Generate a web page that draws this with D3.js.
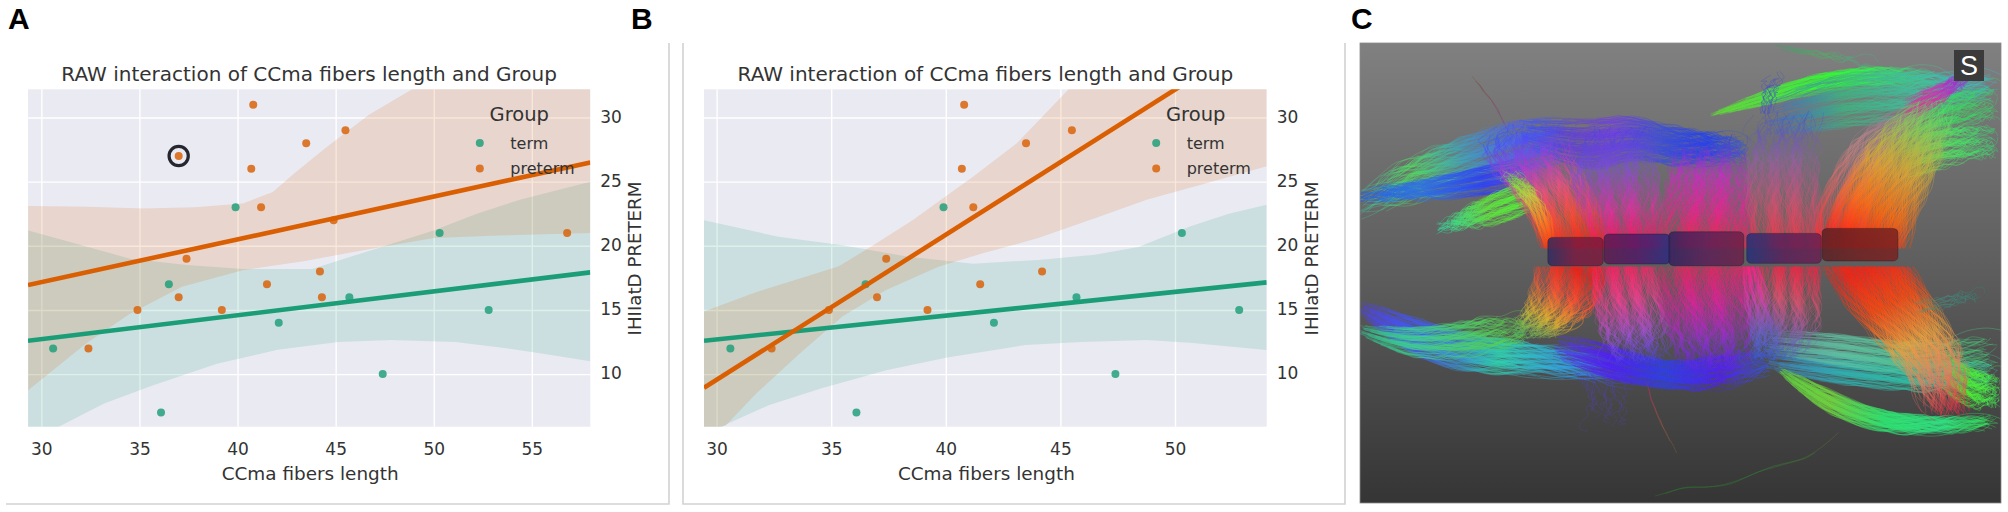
<!DOCTYPE html>
<html>
<head>
<meta charset="utf-8">
<script src="https://cdn.jsdelivr.net/npm/d3@7"></script>
<style>
  html, body { margin: 0; background: #fff; }
  svg { display: block; }
  text { font-family: "DejaVu Sans", sans-serif; fill: #333; }
  .letter { font-family: "Liberation Sans", sans-serif; font-weight: 700; font-size: 30px; fill: #000; }
</style>
</head>
<body>
<svg id="fig" width="2008" height="512"></svg>
<script>
const titleText = 'RAW interaction of CCma fibers length and Group';
const xLabel = 'CCma fibers length';
const yLabel = 'IHIIatD PRETERM';
const groups = ['term', 'preterm'];
const yTicks = [10, 15, 20, 25, 30];
const xTicksA = [30, 35, 40, 45, 50, 55];
const xTicksB = [30, 35, 40, 45, 50];

const termX = [30.6, 36.1, 36.5, 39.9, 42.1, 45.7, 47.4, 50.3, 52.8];
const termY = [12, 7, 17, 23, 14, 16, 10, 21, 15];

const pretermXA = [32.4, 34.9, 37.0, 37.0, 37.4, 39.2, 40.7, 40.8, 41.2, 41.5, 43.5, 44.2, 44.3, 44.9, 45.5, 56.8];
const pretermYA = [12, 15, 16, 27, 19, 15, 26, 31, 23, 17, 28, 18, 16, 22, 29, 21];
const pretermXB = [32.4, 34.9, 37.0, 37.4, 39.2, 40.7, 40.8, 41.2, 41.5, 43.5, 44.2, 45.5];
const pretermYB = [12, 15, 16, 19, 15, 26, 31, 23, 17, 28, 18, 29];

// regression lines, [x, y] at both ends of the axis
const termLineA = [[29.32, 12.6], [57.98, 17.93]];
const pretermLineA = [[29.32, 16.94], [57.98, 26.5]];
const termLineB = [[29.45, 12.6], [54.0, 17.15]];
const pretermLineB = [[29.45, 8.93], [54.0, 36.7]];

// confidence bands
const termUpperA = [[29.33, 21.2], [34.52, 19.0], [37.4, 18.5], [40.27, 18.2], [43.8, 18.2], [46.9, 19.7], [50, 21.2], [52.2, 22.5], [54.4, 23.6], [57.98, 25]];
const termLowerA = [[29.33, 4.85], [30.88, 5.9], [33.2, 7.7], [35.63, 9.1], [38.95, 10.8], [42.04, 11.9], [45.13, 12.5], [47.8, 12.65], [51.1, 12.5], [53.3, 12.1], [55.5, 11.6], [57.98, 11]];
const pretermUpperA = [[29.33, 23.1], [32.3, 23.05], [35.2, 22.9], [37.84, 23.0], [40.27, 23.3], [41.8, 24.2], [42.9, 25.65], [44.47, 27.6], [46.68, 30.2], [48.9, 32.2], [57.98, 38]];
const pretermLowerA = [[29.33, 8.75], [32.3, 12.4], [34.52, 14.7], [37.17, 16.8], [40.27, 18.1], [43.36, 18.8], [46.9, 19.8], [50, 20.6], [53.3, 20.8], [57.98, 21]];

const termUpperB = [[29.43, 22], [32.7, 20.7], [35.5, 20.05], [38.36, 19.15], [41.2, 18.6], [44.03, 18.9], [46.5, 19.3], [48.4, 19.9], [50.65, 21.5], [52.35, 22.5], [54, 23.2]];
const termLowerB = [[29.43, 5.1], [30.5, 6.15], [32.3, 7.6], [34.58, 8.9], [37.4, 10.3], [40.06, 11.3], [43.46, 12.26], [45.9, 12.5], [48.76, 12.65], [50.65, 12.45], [54, 11.87]];
const pretermUpperB = [[29.43, 14.86], [31.74, 16.4], [33.63, 17.46], [35.33, 18.4], [36.85, 20.06], [38.55, 22], [41.2, 25.4], [43.1, 28], [45.36, 32.2], [46.5, 34], [54, 40]];
const pretermLowerB = [[29.43, 5.6], [30.4, 6], [31.74, 8.5], [33.63, 11.6], [35.5, 14.5], [37.4, 16.55], [39.68, 18.37], [41.57, 19.4], [44.03, 20.6], [46.5, 22.15], [48.76, 23.6], [51.6, 25], [54, 26.2]];

const termColor = '#1b9e77';
const pretermColor = '#d95f02';

// panel C: fibre bundles as [x, y, half width] in photo units
const fibreBundles = [
  // horizontal sheets go first, the midline curtain sits on top of them
  { n: 190, axis: 'y', pts: [[560, 420, 55], [420, 440, 70], [300, 490, 70], [180, 520, 60], [50, 610, 40]], colors: ['#4050f0', '#5060f0', '#40a0c0', '#50e060', '#40c0a0'] },
  { n: 130, axis: 'y', pts: [[480, 510, 40], [300, 550, 35], [180, 570, 25], [45, 590, 14]], colors: ['#7040e0', '#3040f0', '#3070e0', '#2060f0'] },
  { n: 120, axis: 'y', pts: [[455, 590, 40], [350, 625, 45], [235, 685, 10]], colors: ['#50ff30', '#60e040', '#30e0a0'] },
  { n: 220, axis: 'y', pts: [[420, 400, 40], [600, 450, 70], [680, 400, 50], [770, 440, 50], [880, 440, 40], [970, 450, 25]], colors: ['#3050ff', '#6040d0', '#7040e0', '#4050d0', '#2040f0', '#4060c0'] },

  { n: 100, axis: 'y', pts: [[870, 345, 4], [1000, 290, 20], [1150, 235, 25], [1300, 225, 28], [1430, 240, 22]], colors: ['#60e030', '#50e040', '#30ff30', '#30f060', '#40c0a0'] },
  { n: 170, axis: 'y', pts: [[1000, 360, 50], [1200, 290, 70], [1350, 280, 60], [1552, 250, 28]], colors: ['#4060d0', '#40b080', '#40c0a0', '#30c0e0'] },
  { n: 110, axis: 'y', pts: [[1300, 410, 60], [1400, 335, 50], [1552, 300, 50]], colors: ['#80b060', '#40d060', '#30e060'] },
  { n: 110, axis: 'y', pts: [[1320, 490, 50], [1420, 430, 50], [1552, 420, 50]], colors: ['#a0c040', '#50e060', '#30e070'] },
  { n: 70, axis: 'y', pts: [[1320, 330, 28], [1420, 275, 28], [1475, 225, 16]], colors: ['#e03090', '#d030b0', '#8030e0'] },

  { n: 200, axis: 'y', pts: [[45, 925, 22], [150, 1000, 45], [280, 1060, 50], [450, 1070, 40], [720, 1125, 35]], colors: ['#5040e0', '#4060f0', '#30d0b0', '#30a0f0', '#5020f0'] },
  { n: 110, axis: 'y', pts: [[45, 990, 14], [180, 1040, 40], [350, 1000, 55], [450, 990, 35]], colors: ['#30c090', '#40d090', '#50d060', '#60d040'] },
  { n: 190, axis: 'y', pts: [[500, 1040, 35], [640, 1090, 45], [780, 1135, 28], [900, 1110, 50], [1030, 1080, 30]], colors: ['#5040e0', '#5020f0', '#3040e0', '#5020f0', '#3060e0'] },

  { n: 150, axis: 'y', pts: [[1000, 1080, 30], [1200, 1110, 40], [1400, 1130, 40], [1552, 1120, 40]], colors: ['#4080c0', '#30b0b0', '#30c0a0', '#40c0a0'] },
  { n: 160, axis: 'y', pts: [[1030, 1110, 10], [1120, 1190, 30], [1250, 1265, 28], [1400, 1280, 22], [1552, 1265, 14]], colors: ['#60d040', '#70d040', '#30e070', '#30e080', '#30f050'] },
  { n: 130, axis: 'y', pts: [[1000, 1030, 30], [1200, 1050, 40], [1350, 1080, 40], [1552, 1050, 55]], colors: ['#60a0a0', '#60c0a0', '#50c090', '#40e070'] },
  { n: 120, axis: 'y', pts: [[1400, 1100, 50], [1480, 1170, 50], [1552, 1170, 50]], colors: ['#60d050', '#50f030', '#40f050'] },

  // top half of the curtain
  { n: 230, axis: 'x', pts: [[555, 745, 65], [530, 640, 70], [480, 540, 80], [420, 450, 90], [460, 375, 80]], colors: ['#ff2010', '#ff4a30', '#f05080', '#a040d0', '#3050ff'] },
  { n: 70, axis: 'x', pts: [[495, 745, 10], [475, 640, 18], [430, 560, 20], [400, 520, 20]], colors: ['#ff3010', '#ff8020', '#c0d040', '#50f030'] },
  { n: 210, axis: 'x', pts: [[680, 745, 62], [660, 620, 80], [625, 500, 90], [660, 385, 80]], colors: ['#ff1050', '#e030a0', '#8050d0', '#4040e0'] },
  { n: 230, axis: 'x', pts: [[865, 745, 95], [865, 620, 85], [860, 510, 75], [870, 410, 70]], colors: ['#ff2040', '#f02090', '#c030c0', '#3040e0'] },
  { n: 190, axis: 'x', pts: [[1060, 745, 70], [1040, 600, 70], [1030, 470, 70], [1050, 340, 70]], colors: ['#ff3040', '#d05070', '#9060a0', '#4050d0'] },
  { n: 140, axis: 'x', pts: [[1175, 745, 45], [1180, 620, 50], [1230, 480, 55], [1280, 380, 50], [1400, 300, 35]], colors: ['#ff3030', '#e06060', '#c08080', '#a08090', '#e03080'] },
  { n: 330, axis: 'x', pts: [[1230, 745, 85], [1260, 620, 85], [1300, 520, 80], [1340, 400, 70], [1400, 310, 50]], colors: ['#ff2010', '#ff6a10', '#e0a030', '#a0c050', '#50e070'] },

  // bottom half of the curtain
  { n: 210, axis: 'x', pts: [[545, 800, 68], [535, 880, 70], [495, 960, 65], [440, 1020, 50]], colors: ['#ff1a10', '#ff5030', '#e0b030', '#50c060'] },
  { n: 190, axis: 'x', pts: [[670, 800, 62], [675, 900, 65], [685, 1000, 70], [700, 1100, 60]], colors: ['#ff2060', '#f04090', '#a050d0', '#4040f0'] },
  { n: 240, axis: 'x', pts: [[865, 800, 95], [855, 900, 85], [870, 1020, 85], [880, 1130, 60]], colors: ['#f02060', '#e020a0', '#9030d0', '#5020f0'] },
  { n: 160, axis: 'x', pts: [[1060, 800, 60], [1050, 900, 60], [1045, 1000, 70], [1005, 1090, 50]], colors: ['#ff2040', '#e05070', '#8060b0', '#3060d0'] },
  { n: 60, axis: 'x', pts: [[965, 800, 15], [975, 880, 25], [995, 1000, 35], [1015, 1100, 25]], colors: ['#ff2080', '#d040b0', '#6060d0', '#3060e0'] },
  { n: 340, axis: 'x', pts: [[1240, 800, 85], [1285, 900, 90], [1345, 1000, 80], [1400, 1110, 60], [1430, 1260, 35]], colors: ['#ff2010', '#ff4a10', '#e8a040', '#e08060', '#ff2040'] },

  // loose strands
  { n: 2, axis: 'y', pts: [[740, 1490, 1], [820, 1455, 1], [900, 1470, 1], [1000, 1400, 2], [1100, 1385, 2], [1170, 1300, 2]], colors: ['#2d7a2d', '#2d7a2d', '#2d7a2d', '#358035', '#407a30', '#607030'] },
  { n: 3, axis: 'y', pts: [[720, 1150, 1], [740, 1240, 2], [790, 1360, 1]], colors: ['#a03060', '#905040', '#806040'] },
  { n: 3, axis: 'y', pts: [[310, 230, 2], [370, 320, 3], [390, 390, 3]], colors: ['#705040', '#805060', '#804090'] },
  { n: 8, axis: 'y', pts: [[1020, 140, 6], [1130, 165, 10], [1260, 190, 12]], colors: ['#3f9a6a', '#50b060', '#40b090'] },
  { n: 12, axis: 'x', pts: [[1000, 340, 12], [1010, 280, 18], [1020, 220, 16]], colors: ['#4050c8', '#4050c8', '#4858b0'] },
  { n: 14, axis: 'x', pts: [[600, 1120, 40], [640, 1200, 50], [620, 1290, 40]], colors: ['#4a40c8', '#5040a0', '#504080'] },
  { n: 10, axis: 'y', pts: [[1350, 930, 20], [1440, 900, 20], [1510, 880, 10]], colors: ['#509070', '#409080', '#308070'] }
];

// the five dark segments along the midline: [x0, y0, x1, y1], left and right tint
const ccBlocks = [
  { box: [488, 712, 618, 797], tints: ['#2e2a60', '#7a1a40', '#7a1a3c'] },
  { box: [620, 702, 775, 792], tints: ['#5a1a50', '#501a66', '#2a2c80'] },
  { box: [772, 695, 948, 797], tints: ['#33205e', '#5a2058', '#6c2048'] },
  { box: [955, 700, 1130, 790], tints: ['#22307a', '#5a2058', '#6a2050'] },
  { box: [1132, 685, 1310, 783], tints: ['#5a2024', '#702020', '#7a2220'] }
];

const svg = d3.select('#fig');
const defs = svg.append('defs');

function drawFrame(left, right, withLeft) {
  const g = svg.append('g').attr('fill', 'none').attr('stroke', '#d2d2d2').attr('stroke-width', 1.6);
  const path = withLeft
    ? `M${left},43V504H${right}V43`
    : `M${left},504H${right}V43`;
  g.append('path').attr('d', path);
}

function drawScatter(cfg) {
  const x = d3.scaleLinear().domain(cfg.xDomain).range([cfg.left, cfg.right]);
  const y = d3.scaleLinear().domain([5.9, 32.2]).range([426.7, 89.3]);
  const g = svg.append('g');

  g.append('rect')
    .attr('x', cfg.left).attr('y', y(32.2))
    .attr('width', cfg.right - cfg.left).attr('height', y(5.9) - y(32.2))
    .attr('fill', '#eaeaf2');

  defs.append('clipPath').attr('id', cfg.id)
    .append('rect')
    .attr('x', cfg.left).attr('y', y(32.2))
    .attr('width', cfg.right - cfg.left).attr('height', y(5.9) - y(32.2));

  // grid lines and tick labels come from the axes
  const xAxis = g.append('g')
    .attr('transform', `translate(0,${y(5.9)})`)
    .call(d3.axisBottom(x).tickValues(cfg.xTicks).tickSize(y(5.9) - y(32.2)).tickPadding(0));
  xAxis.select('.domain').remove();
  xAxis.selectAll('line')
    .attr('y1', 0).attr('y2', y(32.2) - y(5.9))
    .attr('stroke', '#fff').attr('stroke-width', 1.4);
  xAxis.selectAll('text')
    .attr('y', 28).attr('dy', 0)
    .style('font-size', '17px').style('font-family', '"DejaVu Sans", sans-serif')
    .attr('fill', '#333');

  const yAxis = g.append('g')
    .attr('transform', `translate(${cfg.right},0)`)
    .call(d3.axisRight(y).tickValues(yTicks).tickSize(0));
  yAxis.select('.domain').remove();
  yAxis.selectAll('line')
    .attr('x1', cfg.left - cfg.right).attr('x2', 0)
    .attr('stroke', '#fff').attr('stroke-width', 1.4);
  yAxis.selectAll('text')
    .attr('x', 10).attr('dy', '.28em')
    .style('font-size', '17px').style('font-family', '"DejaVu Sans", sans-serif')
    .attr('fill', '#333');

  const plot = g.append('g').attr('clip-path', `url(#${cfg.id})`);
  const line = d3.line().x(d => x(d[0])).y(d => y(d[1]));

  function band(upper, lower, color) {
    plot.append('path')
      .attr('d', line(upper.concat(lower.slice().reverse())) + 'Z')
      .attr('fill', color).attr('fill-opacity', 0.15);
  }
  band(cfg.termUpper, cfg.termLower, termColor);
  band(cfg.pretermUpper, cfg.pretermLower, pretermColor);

  plot.selectAll('.term').data(d3.zip(termX, termY)).join('circle')
    .attr('class', 'term')
    .attr('cx', d => x(d[0])).attr('cy', d => y(d[1])).attr('r', 4)
    .attr('fill', termColor).attr('fill-opacity', 0.82);
  plot.selectAll('.preterm').data(d3.zip(cfg.pretermX, cfg.pretermY)).join('circle')
    .attr('class', 'preterm')
    .attr('cx', d => x(d[0])).attr('cy', d => y(d[1])).attr('r', 4)
    .attr('fill', pretermColor).attr('fill-opacity', 0.82);

  plot.append('path').attr('d', line(cfg.termLine))
    .attr('fill', 'none').attr('stroke', termColor).attr('stroke-width', 4.6);
  plot.append('path').attr('d', line(cfg.pretermLine))
    .attr('fill', 'none').attr('stroke', pretermColor).attr('stroke-width', 4.6);

  if (cfg.marked) {
    g.append('circle')
      .attr('cx', x(cfg.marked[0])).attr('cy', y(cfg.marked[1])).attr('r', 9.6)
      .attr('fill', 'none').attr('stroke', '#262630').attr('stroke-width', 3.2);
  }

  const mid = (cfg.left + cfg.right) / 2;
  g.append('text').text(titleText)
    .attr('x', mid).attr('y', 81).attr('text-anchor', 'middle')
    .style('font-size', '20px');
  g.append('text').text(xLabel)
    .attr('x', mid + 1).attr('y', 479.5).attr('text-anchor', 'middle')
    .style('font-size', '18.4px');
  g.append('text').text(yLabel)
    .attr('transform', `translate(${cfg.right + 51},258.5) rotate(-90)`)
    .attr('text-anchor', 'middle')
    .style('font-size', '18.2px');

  // legend
  const lx = cfg.right - 71;
  g.append('text').text('Group')
    .attr('x', lx).attr('y', 120.5).attr('text-anchor', 'middle')
    .style('font-size', '19.5px');
  groups.forEach((name, i) => {
    const ly = 143 + i * 25.5;
    g.append('circle')
      .attr('cx', lx - 39.5).attr('cy', ly).attr('r', 4)
      .attr('fill', i ? pretermColor : termColor).attr('fill-opacity', 0.82);
    g.append('text').text(name)
      .attr('x', lx - 9).attr('y', ly + 5.5)
      .style('font-size', '16px');
  });
}

function drawFibres() {
  const left = 1360, right = 2001, top = 43, bottom = 503;
  const px = d3.scaleLinear().domain([47, 1552]).range([left, right]);
  const py = d3.scaleLinear().domain([128, 1510]).range([top, bottom]);

  const bg = defs.append('linearGradient').attr('id', 'photoBg')
    .attr('x1', 0).attr('y1', 0).attr('x2', 0).attr('y2', 1);
  bg.append('stop').attr('offset', 0).attr('stop-color', '#808080');
  bg.append('stop').attr('offset', 0.5).attr('stop-color', '#5d5d5d');
  bg.append('stop').attr('offset', 1).attr('stop-color', '#353535');

  defs.append('clipPath').attr('id', 'photoClip').append('rect')
    .attr('x', left).attr('y', top).attr('width', right - left).attr('height', bottom - top);
  defs.append('filter').attr('id', 'soft')
    .attr('x', 0).attr('y', 0).attr('width', 1).attr('height', 1)
    .append('feGaussianBlur').attr('stdDeviation', 0.4);

  const g = svg.append('g').attr('clip-path', 'url(#photoClip)');
  g.append('rect').attr('x', left).attr('y', top)
    .attr('width', right - left).attr('height', bottom - top)
    .attr('fill', 'url(#photoBg)');

  const fibres = g.append('g').attr('filter', 'url(#soft)').attr('fill', 'none');
  const curve = d3.line().curve(d3.curveCatmullRom.alpha(0.5));
  const steps = 14;

  fibreBundles.forEach((b, k) => {
    const first = b.pts[0], last = b.pts[b.pts.length - 1];
    const grad = defs.append('linearGradient').attr('id', `fib${k}`)
      .attr('gradientUnits', 'userSpaceOnUse')
      .attr('x1', px(first[0])).attr('y1', py(first[1]))
      .attr('x2', px(last[0])).attr('y2', py(last[1]));
    b.colors.forEach((c, i) => {
      grad.append('stop').attr('offset', i / (b.colors.length - 1)).attr('stop-color', c);
    });

    const cx = d3.interpolateBasis(b.pts.map(p => p[0]));
    const cy = d3.interpolateBasis(b.pts.map(p => p[1]));
    const cw = d3.interpolateBasis(b.pts.map(p => p[2]));

    d3.range(b.n).forEach(i => {
      // golden ratio steps spread the strands across the bundle without dice
      const t0 = ((i * 0.618034) % 1) * 2 - 1;
      const end = 1 - ((i * 0.37) % 1) * 0.4;
      const start = b.axis === 'y' ? ((i * 0.23) % 1) * 0.25 : 0;
      const pts = d3.range(steps + 1).map(j => {
        const s = start + (end - start) * j / steps;
        const t = t0 + 0.3 * Math.sin(i * 0.9 + s * 5);
        const off = cw(s) * t;
        const amp = b.n < 5 ? 1 : 1.5 + 11 * s * s;
        const ripple = Math.sin(i * 1.3 + j * 1.9) * amp;
        const along = Math.sin(i * 0.7 + j * 1.1) * amp;
        return b.axis === 'x'
          ? [px(cx(s) + off + ripple), py(cy(s) + along)]
          : [px(cx(s) + along), py(cy(s) + off + ripple)];
      });
      fibres.append('path')
        .attr('d', curve(pts))
        .attr('stroke', `url(#fib${k})`)
        .attr('stroke-width', 0.8)
        .attr('stroke-opacity', b.n < 20 ? 0.55 : 0.42);
    });
  });

  ccBlocks.forEach((b, k) => {
    const grad = defs.append('linearGradient').attr('id', `cc${k}`);
    b.tints.forEach((c, i) => {
      grad.append('stop').attr('offset', i / (b.tints.length - 1)).attr('stop-color', c);
    });
    g.append('rect')
      .attr('x', px(b.box[0])).attr('y', py(b.box[1]))
      .attr('width', px(b.box[2]) - px(b.box[0])).attr('height', py(b.box[3]) - py(b.box[1]))
      .attr('rx', 5).attr('ry', 4)
      .attr('fill', `url(#cc${k})`).attr('fill-opacity', 0.85)
      .attr('stroke', '#1c1624').attr('stroke-opacity', 0.35);
  });

  g.append('rect').attr('x', 1954).attr('y', 50).attr('width', 30).attr('height', 31)
    .attr('fill', '#3b3b3b');
  g.append('text').text('S')
    .attr('x', 1969).attr('y', 75).attr('text-anchor', 'middle')
    .style('font-family', '"Liberation Sans", sans-serif')
    .style('font-size', '27px').style('fill', '#fff');

  svg.append('rect').attr('x', left).attr('y', top)
    .attr('width', right - left).attr('height', bottom - top)
    .attr('fill', 'none').attr('stroke', '#8a8a8a').attr('stroke-width', 0.8);
}

drawFrame(6, 669, false);
drawFrame(683, 1345, true);

drawScatter({
  id: 'clipA', left: 28, right: 590.3, xDomain: [29.32, 57.98], xTicks: xTicksA,
  pretermX: pretermXA, pretermY: pretermYA,
  termUpper: termUpperA, termLower: termLowerA,
  pretermUpper: pretermUpperA, pretermLower: pretermLowerA,
  termLine: termLineA, pretermLine: pretermLineA,
  marked: [37.0, 27]
});

drawScatter({
  id: 'clipB', left: 704, right: 1266.7, xDomain: [29.45, 54.0], xTicks: xTicksB,
  pretermX: pretermXB, pretermY: pretermYB,
  termUpper: termUpperB, termLower: termLowerB,
  pretermUpper: pretermUpperB, pretermLower: pretermLowerB,
  termLine: termLineB, pretermLine: pretermLineB
});

drawFibres();

const letters = [['A', 8], ['B', 631], ['C', 1351]];
svg.selectAll('.letter').data(letters).join('text')
  .attr('class', 'letter')
  .text(d => d[0])
  .attr('x', d => d[1]).attr('y', 29);
</script>
</body>
</html>
